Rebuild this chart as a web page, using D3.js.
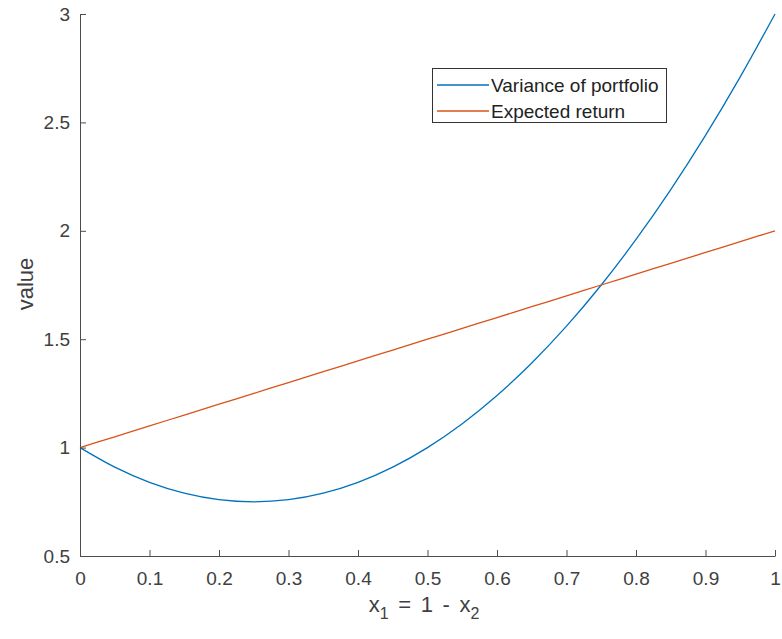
<!DOCTYPE html>
<html>
<head>
<meta charset="utf-8">
<script src="https://cdn.jsdelivr.net/npm/d3@7"></script>
<style>
  html, body { margin: 0; padding: 0; background: #fff; }
  svg { display: block; font-family: "Liberation Sans", Arial, Helvetica, sans-serif; }
</style>
</head>
<body>
<svg id="chart" width="782" height="639"></svg>
<script>
// Data
const xValues = [0, 0.05, 0.1, 0.15, 0.2, 0.25, 0.3, 0.35, 0.4, 0.45, 0.5, 0.55, 0.6, 0.65, 0.7, 0.75, 0.8, 0.85, 0.9, 0.95, 1];
const varianceValues = [1, 0.91, 0.84, 0.79, 0.76, 0.75, 0.76, 0.79, 0.84, 0.91, 1, 1.11, 1.24, 1.39, 1.56, 1.75, 1.96, 2.19, 2.44, 2.71, 3];
const returnValues = [1, 1.05, 1.1, 1.15, 1.2, 1.25, 1.3, 1.35, 1.4, 1.45, 1.5, 1.55, 1.6, 1.65, 1.7, 1.75, 1.8, 1.85, 1.9, 1.95, 2];
const xTicks = [0, 0.1, 0.2, 0.3, 0.4, 0.5, 0.6, 0.7, 0.8, 0.9, 1];
const yTicks = [0.5, 1, 1.5, 2, 2.5, 3];
const seriesNames = ["Variance of portfolio", "Expected return"];
const seriesColors = ["#0072BD", "#D95319"];

const svg = d3.select("#chart");
const plotLeft = 80, plotRight = 775, plotTop = 14, plotBottom = 556;

const x = d3.scaleLinear().domain([0, 1]).range([plotLeft, plotRight]);
const y = d3.scaleLinear().domain([0.5, 3]).range([plotBottom, plotTop]);

const axisColor = "#4d4d4d";
const textColor = "#404040";
const tickFont = 19;

// Lines
const series = [varianceValues, returnValues];
series.forEach((vals, i) => {
  const line = d3.line()
    .x((d, j) => x(xValues[j]))
    .y(d => y(d))
    .curve(d3.curveMonotoneX);
  svg.append("path")
    .datum(vals)
    .attr("fill", "none")
    .attr("stroke", seriesColors[i])
    .attr("stroke-width", 1.3)
    .attr("d", line);
});

// X axis (ticks inward)
const xAxis = d3.axisBottom(x).tickValues(xTicks).tickSizeInner(-6).tickSizeOuter(0)
  .tickFormat(d => d3.format("~g")(d)).tickPadding(16);
const gx = svg.append("g").attr("transform", `translate(0,${plotBottom})`).call(xAxis);
gx.select(".domain").attr("stroke", axisColor);
gx.selectAll(".tick line").attr("stroke", axisColor);
gx.selectAll(".tick text").attr("fill", textColor).attr("font-size", tickFont)
  .attr("font-family", "Liberation Sans, Arial, sans-serif");

// Y axis (ticks inward)
const yAxis = d3.axisLeft(y).tickValues(yTicks).tickSizeInner(-6).tickSizeOuter(0)
  .tickFormat(d => d3.format("~g")(d)).tickPadding(10);
const gy = svg.append("g").attr("transform", `translate(${plotLeft},0)`).call(yAxis);
gy.select(".domain").attr("stroke", axisColor);
gy.selectAll(".tick line").attr("stroke", axisColor);
gy.selectAll(".tick text").attr("fill", textColor).attr("font-size", tickFont)
  .attr("font-family", "Liberation Sans, Arial, sans-serif");

// Axis labels
svg.append("text")
  .attr("transform", `translate(33,284) rotate(-90)`)
  .attr("text-anchor", "middle")
  .attr("fill", textColor)
  .attr("font-size", 22)
  .text("value");

const xl = svg.append("text")
  .attr("x", 424)
  .attr("y", 612)
  .attr("text-anchor", "middle")
  .attr("fill", textColor)
  .attr("font-size", 22)
  .attr("word-spacing", 3.5);
xl.append("tspan").text("x");
xl.append("tspan").attr("dy", 7).attr("font-size", 16).text("1");
xl.append("tspan").attr("dy", -7).text(" = 1 - x");
xl.append("tspan").attr("dy", 7).attr("font-size", 16).text("2");

// Legend
const lg = svg.append("g");
lg.append("rect")
  .attr("x", 432.5).attr("y", 68.5)
  .attr("width", 234).attr("height", 54)
  .attr("fill", "#fff")
  .attr("stroke", "#333")
  .attr("stroke-width", 1);
seriesNames.forEach((name, i) => {
  const cy = 85 + i * 26;
  lg.append("line")
    .attr("x1", 437).attr("x2", 489)
    .attr("y1", cy).attr("y2", cy)
    .attr("stroke", seriesColors[i]).attr("stroke-width", 1.3);
  lg.append("text")
    .attr("x", 491).attr("y", cy)
    .attr("dominant-baseline", "central")
    .attr("fill", "#222")
    .attr("font-size", 19)
    .text(name);
});
</script>
</body>
</html>
